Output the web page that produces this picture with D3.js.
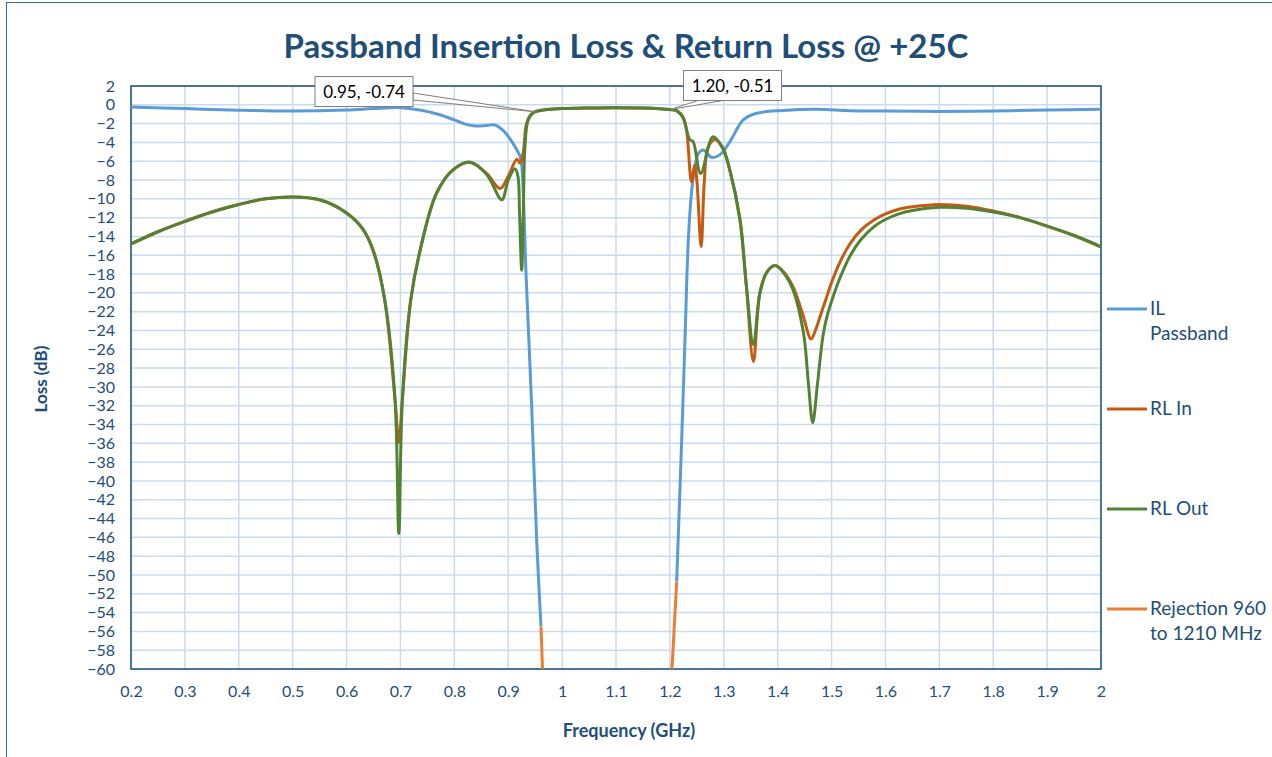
<!DOCTYPE html>
<html lang="en">
<head>
    <meta charset="utf-8">
    <title>Passband Insertion Loss & Return Loss @ +25C</title>
    <script type="text/javascript" src="https://d3js.org/d3.v7.min.js"></script>
    <style>
        html, body { margin: 0; padding: 0; background: #fff; }
        svg { display: block; font-family: Lato, "Open Sans", sans-serif; }
    </style>
</head>
<body>
    <script type="text/javascript">

        // ---- data ----
        var xTicks = [0.2, 0.3, 0.4, 0.5, 0.6, 0.7, 0.8, 0.9, 1, 1.1, 1.2, 1.3, 1.4, 1.5, 1.6, 1.7, 1.8, 1.9, 2];
        var yTicks = d3.range(2, -61, -2);

        var ilFreq = [0.2, 0.3, 0.4, 0.5, 0.6, 0.65, 0.7, 0.736, 0.77, 0.8, 0.82, 0.84, 0.86, 0.875, 0.89, 0.903, 0.913, 0.922, 0.925, 0.933, 0.9435, 0.9528, 0.9608,
            1.2126, 1.2219, 1.228, 1.2342, 1.2405, 1.2466, 1.2527, 1.262, 1.2776, 1.293, 1.3117, 1.3362, 1.361, 1.41, 1.472, 1.534, 1.6, 1.7, 1.8, 1.9, 2.0];
        var ilLoss = [-0.23, -0.4, -0.57, -0.66, -0.55, -0.4, -0.3, -0.55, -1.0, -1.6, -2.05, -2.25, -2.2, -2.15, -2.7, -3.6, -4.5, -5.5, -6.4, -17.9, -32.1, -46.3, -55.5,
            -50.7, -35.6, -25.0, -14.4, -9.1, -6.6, -5.2, -4.8, -5.6, -5.3, -3.9, -1.6, -0.9, -0.6, -0.48, -0.62, -0.66, -0.7, -0.65, -0.56, -0.46];

        var rlInFreq = [0.2, 0.25, 0.3, 0.35, 0.4, 0.45, 0.5, 0.55, 0.6, 0.63, 0.65, 0.671, 0.69, 0.697, 0.7035, 0.719, 0.736, 0.767, 0.798, 0.829, 0.86, 0.885, 0.9, 0.916, 0.922, 0.928, 0.934, 0.943, 0.953, 0.965, 1.0, 1.05, 1.1, 1.15, 1.2,
            1.213, 1.225, 1.231, 1.234, 1.240, 1.246, 1.250, 1.258, 1.264, 1.271, 1.284, 1.298, 1.311, 1.33, 1.342, 1.355, 1.367, 1.38, 1.395, 1.41, 1.428, 1.445, 1.462, 1.47, 1.48, 1.49, 1.5, 1.515, 1.534, 1.555, 1.58, 1.6, 1.625, 1.65, 1.7, 1.75, 1.8, 1.85, 1.9, 1.95, 2.0];
        var rlInLoss = [-14.8, -13.5, -12.4, -11.4, -10.6, -10.0, -9.8, -10.1, -11.5, -13.2, -15.6, -20.8, -31.4, -35.9, -31.4, -20.8, -15.6, -9.4, -6.9, -6.1, -7.3, -8.9, -7.6, -5.8, -6.2, -5.0, -2.0, -1.0, -0.7, -0.55, -0.4, -0.33, -0.3, -0.34, -0.51,
            -0.65, -1.4, -2.7, -4.5, -8.2, -6.4, -8.0, -15.1, -8.0, -4.5, -3.7, -4.6, -6.9, -12.2, -19.3, -27.3, -20.0, -17.8, -17.1, -17.7, -19.3, -22.0, -24.9, -24.0, -22.3, -20.6, -18.9, -16.8, -14.8, -13.3, -12.2, -11.6, -11.1, -10.85, -10.6, -10.8, -11.3, -12.0, -12.9, -13.9, -15.1];

        var rlOutFreq = [0.2, 0.25, 0.3, 0.35, 0.4, 0.45, 0.5, 0.55, 0.6, 0.63, 0.65, 0.671, 0.69, 0.697, 0.7035, 0.719, 0.736, 0.767, 0.798, 0.829, 0.86, 0.888, 0.9, 0.9126, 0.918, 0.921, 0.925, 0.928, 0.931, 0.937, 0.947, 0.965, 1.0, 1.05, 1.1, 1.15, 1.2,
            1.213, 1.225, 1.231, 1.237, 1.243, 1.257, 1.28, 1.298, 1.311, 1.33, 1.342, 1.355, 1.367, 1.38, 1.395, 1.41, 1.428, 1.448, 1.457, 1.465, 1.474, 1.484, 1.492, 1.5, 1.515, 1.534, 1.555, 1.58, 1.6, 1.625, 1.65, 1.7, 1.75, 1.8, 1.85, 1.9, 1.95, 2.0];
        var rlOutLoss = [-14.8, -13.5, -12.4, -11.4, -10.6, -10.0, -9.8, -10.1, -11.5, -13.2, -15.6, -20.8, -31.4, -45.6, -31.4, -20.8, -15.6, -9.4, -6.9, -6.1, -7.4, -10.1, -8.0, -6.8, -7.6, -11.5, -17.6, -11.5, -4.5, -1.6, -0.8, -0.55, -0.4, -0.33, -0.3, -0.34, -0.51,
            -0.65, -1.4, -2.7, -3.7, -3.9, -7.3, -3.4, -4.6, -6.9, -12.2, -19.3, -25.5, -20.0, -17.8, -17.1, -17.8, -19.6, -24.3, -29.6, -33.8, -29.6, -24.6, -22.4, -20.9, -18.5, -16.1, -14.3, -12.9, -12.2, -11.6, -11.25, -10.9, -11.0, -11.4, -12.0, -12.9, -13.9, -15.1];

        var rejFreq = [0.9608, 0.9640, 1.2030, 1.2126];
        var rejLoss = [-55.5, -60.5, -61.0, -50.7];

        var seriesNames = ["IL Passband", "RL In", "RL Out", "Rejection 960 to 1210 MHz"];
        var seriesColors = ["#5b9bd5", "#c55a11", "#548235", "#ed7d31"];

        var callouts = [
            { f: 0.95, v: -0.74, text: "0.95, -0.74" },
            { f: 1.20, v: -0.51, text: "1.20, -0.51" }
        ];

        // ---- layout ----
        var width = 1272, height = 757;
        var margin = { left: 131, top: 86, right: 171, bottom: 88 };
        var plotW = width - margin.left - margin.right;
        var plotH = height - margin.top - margin.bottom;
        var textColor = "#1f4e79";

        var svg = d3.select("body")
            .append("svg")
            .attr("width", width)
            .attr("height", height);

        // outer chart border
        svg.append("rect")
            .attr("x", 6.5).attr("y", 2.5)
            .attr("width", width + 20).attr("height", height + 20)
            .attr("fill", "none")
            .attr("stroke", "#2e6da4")
            .attr("stroke-width", 1);

        var x = d3.scaleLinear().domain([0.2, 2]).range([0, plotW]);
        var y = d3.scaleLinear().domain([-60, 2]).range([plotH, 0]);

        var g = svg.append("g")
            .attr("transform", "translate(" + margin.left + "," + margin.top + ")");

        // gridlines
        g.append("g")
            .selectAll("line")
            .data(xTicks)
            .enter()
            .append("line")
            .attr("x1", function (d) { return x(d); })
            .attr("x2", function (d) { return x(d); })
            .attr("y1", 0).attr("y2", plotH)
            .attr("stroke", "#c9dbf0")
            .attr("stroke-width", 1.5);

        g.append("g")
            .selectAll("line")
            .data(yTicks)
            .enter()
            .append("line")
            .attr("x1", 0).attr("x2", plotW)
            .attr("y1", function (d) { return y(d); })
            .attr("y2", function (d) { return y(d); })
            .attr("stroke", "#c9dbf0")
            .attr("stroke-width", 1.5);

        // axes (labels only)
        var xAxis = g.append("g")
            .attr("transform", "translate(0," + plotH + ")")
            .call(d3.axisBottom(x).tickValues(xTicks).tickSize(0).tickPadding(17)
                .tickFormat(function (d) { return d3.format("")(+d.toFixed(1)); }));
        var yAxis = g.append("g")
            .call(d3.axisLeft(y).tickValues(yTicks).tickSize(0).tickPadding(16));

        [xAxis, yAxis].forEach(function (a) {
            a.select(".domain").remove();
            a.selectAll("text")
                .attr("fill", textColor)
                .style("font-family", "Lato, sans-serif")
                .style("font-size", "16px");
        });

        // plot border
        g.append("rect")
            .attr("x", 0).attr("y", 0)
            .attr("width", plotW).attr("height", plotH)
            .attr("fill", "none")
            .attr("stroke", textColor)
            .attr("stroke-width", 1.5);

        // series
        g.append("clipPath")
            .attr("id", "plotClip")
            .append("rect")
            .attr("x", 0).attr("y", -2)
            .attr("width", plotW + 1).attr("height", plotH + 2);

        function pts(fs, vs) {
            return fs.map(function (f, i) { return [f, vs[i]]; });
        }

        var smooth = d3.line()
            .x(function (d) { return x(d[0]); })
            .y(function (d) { return y(d[1]); })
            .curve(d3.curveCatmullRom.alpha(0.5));
        var straight = d3.line()
            .x(function (d) { return x(d[0]); })
            .y(function (d) { return y(d[1]); });

        var ilPts = pts(ilFreq, ilLoss);
        var ilLeft = ilPts.filter(function (d) { return d[0] < 1.0; });
        var ilRight = ilPts.filter(function (d) { return d[0] > 1.0; });

        var lines = g.append("g").attr("clip-path", "url(#plotClip)");

        [ilLeft, ilRight].forEach(function (p) {
            lines.append("path")
                .attr("d", smooth(p))
                .attr("fill", "none")
                .attr("stroke", seriesColors[0])
                .attr("stroke-width", 3)
                .attr("stroke-linejoin", "round");
        });

        lines.append("path")
            .attr("d", smooth(pts(rlInFreq, rlInLoss)))
            .attr("fill", "none")
            .attr("stroke", seriesColors[1])
            .attr("stroke-width", 3)
            .attr("stroke-linejoin", "round");

        lines.append("path")
            .attr("d", smooth(pts(rlOutFreq, rlOutLoss)))
            .attr("fill", "none")
            .attr("stroke", seriesColors[2])
            .attr("stroke-width", 3)
            .attr("stroke-linejoin", "round");

        lines.append("path")
            .attr("d", straight(pts(rejFreq, rejLoss)))
            .attr("fill", "none")
            .attr("stroke", seriesColors[3])
            .attr("stroke-width", 3);

        // data callouts
        var c0 = callouts[0], c1 = callouts[1];
        var p0 = [margin.left + x(c0.f), margin.top + y(c0.v)];
        var p1 = [margin.left + x(c1.f), margin.top + y(c1.v)];

        svg.append("path")
            .attr("d", "M413,93L" + p0[0] + "," + p0[1] + "L413,100Z")
            .attr("fill", "#fff").attr("stroke", "#7f7f7f").attr("stroke-width", 1);
        svg.append("path")
            .attr("d", "M698,100.5L" + p1[0] + "," + p1[1] + "L723,100.5Z")
            .attr("fill", "#fff").attr("stroke", "#7f7f7f").attr("stroke-width", 1);

        var boxes = [
            { x: 315, y: 76.5, w: 98, h: 30, t: c0.text },
            { x: 683.5, y: 70.5, w: 98, h: 30, t: c1.text }
        ];
        boxes.forEach(function (b) {
            svg.append("rect")
                .attr("x", b.x).attr("y", b.y)
                .attr("width", b.w).attr("height", b.h)
                .attr("fill", "#fff").attr("stroke", "#7f7f7f").attr("stroke-width", 1);
            svg.append("text")
                .attr("x", b.x + b.w / 2).attr("y", b.y + b.h / 2 + 6)
                .attr("text-anchor", "middle")
                .attr("font-size", "17px")
                .attr("fill", "#000")
                .text(b.t);
        });

        // title
        svg.append("text")
            .attr("x", 626).attr("y", 58)
            .attr("text-anchor", "middle")
            .attr("font-size", "33px")
            .attr("font-weight", "bold")
            .attr("fill", textColor)
            .text("Passband Insertion Loss & Return Loss @ +25C");

        // axis titles
        svg.append("text")
            .attr("x", 629).attr("y", 737)
            .attr("text-anchor", "middle")
            .attr("font-size", "18px")
            .attr("font-weight", "bold")
            .attr("fill", textColor)
            .text("Frequency (GHz)");

        svg.append("text")
            .attr("transform", "translate(47,379) rotate(-90)")
            .attr("text-anchor", "middle")
            .attr("font-size", "17px")
            .attr("font-weight", "bold")
            .attr("fill", textColor)
            .text("Loss (dB)");

        // legend
        var legendRows = [
            { y: 309, lines: ["IL", "Passband"] },
            { y: 409, lines: ["RL In"] },
            { y: 509, lines: ["RL Out"] },
            { y: 609, lines: ["Rejection 960", "to 1210 MHz"] }
        ];
        var legend = svg.append("g");
        legendRows.forEach(function (r, i) {
            legend.append("line")
                .attr("x1", 1107).attr("x2", 1147)
                .attr("y1", r.y).attr("y2", r.y)
                .attr("stroke", seriesColors[i])
                .attr("stroke-width", 3);
            var t = legend.append("text")
                .attr("x", 1150).attr("y", r.y + 6)
                .attr("font-size", "19px")
                .attr("fill", textColor);
            r.lines.forEach(function (s, k) {
                t.append("tspan")
                    .attr("x", 1150)
                    .attr("dy", k === 0 ? 0 : 25)
                    .text(s);
            });
        });

    </script>
</body>
</html>
